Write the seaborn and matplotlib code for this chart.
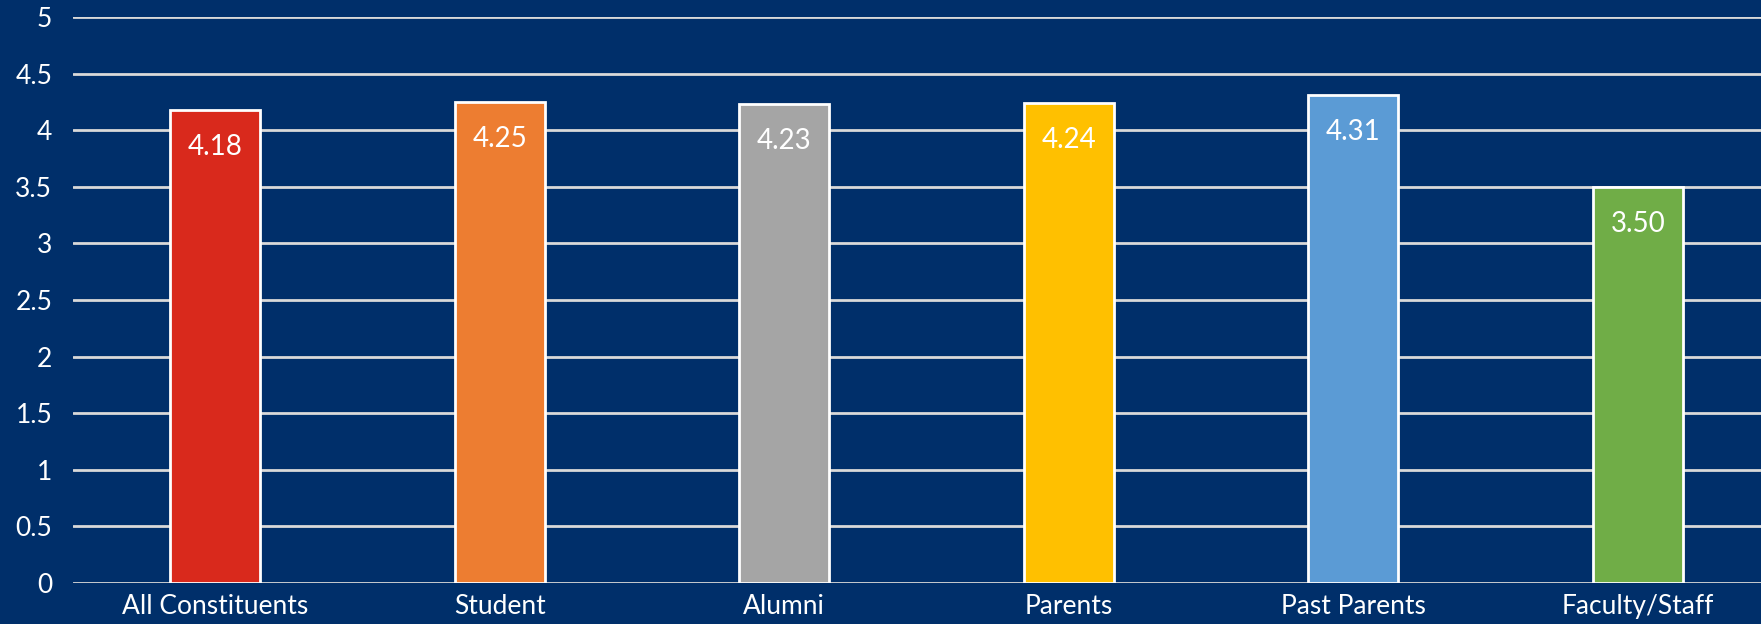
import matplotlib
matplotlib.use("Agg")
import matplotlib.pyplot as plt
import seaborn as sns
import pandas as pd

# chart values
groups = ["All Constituents", "Student", "Alumni", "Parents", "Past Parents", "Faculty/Staff"]
scores = [4.18, 4.25, 4.23, 4.24, 4.31, 3.50]
bar_colors = ["#D9291C", "#ED7D31", "#A5A5A5", "#FFC000", "#5B9BD5", "#70AD47"]
y_ticks = [0, 0.5, 1, 1.5, 2, 2.5, 3, 3.5, 4, 4.5, 5]
y_tick_labels = ["0", "0.5", "1", "1.5", "2", "2.5", "3", "3.5", "4", "4.5", "5"]

navy = "#002F6A"
sns.set_style("white")
plt.rcParams["font.family"] = ["Lato", "DejaVu Sans"]

df = pd.DataFrame({"Group": groups, "Score": scores})

fig = plt.figure(figsize=(17.61, 6.24), dpi=100, facecolor=navy)
ax = fig.add_axes([73 / 1761, 1 - 583 / 624, 1 - 73 / 1761, (583 - 17) / 624])
ax.set_facecolor(navy)

sns.barplot(data=df, x="Group", y="Score", hue="Group", palette=bar_colors, saturation=1,
            width=0.316, edgecolor="white", linewidth=2, legend=False, ax=ax, zorder=3)

for cont in ax.containers:
    ax.bar_label(cont, fmt="%.2f", padding=-36, color="white", fontsize=20)

ax.set_ylim(0, 5)
ax.set_xlim(-0.5, 5.433)
ax.set_yticks(y_ticks)
ax.set_yticklabels(y_tick_labels)
ax.yaxis.grid(True, color="#D9D9D9", linewidth=2, zorder=0)
ax.set_axisbelow(True)
for s in ax.spines.values():
    s.set_visible(False)
ax.tick_params(axis="y", length=0, pad=15, labelsize=19, labelcolor="white")
ax.tick_params(axis="x", length=0, pad=8, labelsize=19, labelcolor="white")
ax.set_xlabel("")
ax.set_ylabel("")

fig.savefig("out.png", dpi=100, facecolor=navy)
